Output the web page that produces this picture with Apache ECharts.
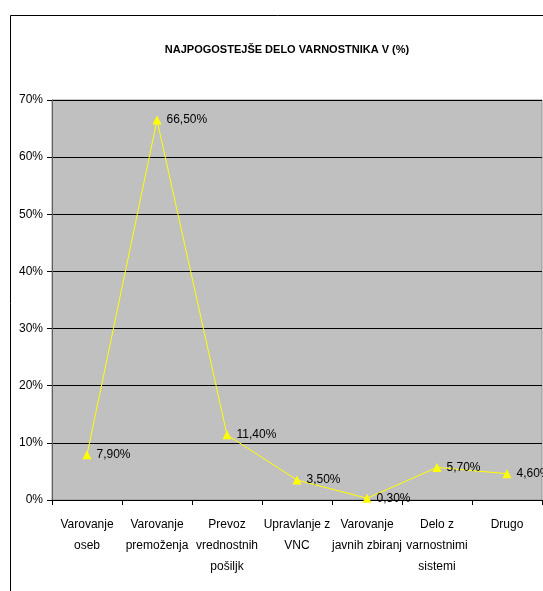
<!DOCTYPE html>
<html><head><meta charset="utf-8">
<script src="https://cdn.jsdelivr.net/npm/echarts@6/dist/echarts.min.js"></script>
<style>html,body{margin:0;padding:0;background:#fff}#c{width:543px;height:591px}</style>
</head><body><div id="c"></div>
<script>
var titleText = 'NAJPOGOSTEJŠE DELO VARNOSTNIKA V (%)';
var categories = ['Varovanje\noseb','Varovanje\npremoženja','Prevoz\nvrednostnih\npošiljk','Upravlanje z\nVNC','Varovanje\njavnih zbiranj','Delo z\nvarnostnimi\nsistemi','Drugo'];
var values = [7.9, 66.5, 11.4, 3.5, 0.3, 5.7, 4.6];
var FONT = '"Liberation Sans", Arial, sans-serif';
var chart = echarts.init(document.getElementById('c'), null, {renderer:'canvas'});
chart.setOption({
  animation:false,
  backgroundColor:'#fff',
  graphic:[{type:'rect',shape:{x:10.5,y:15.5,width:700,height:700},style:{fill:'none',stroke:'#000',lineWidth:1},z:-1}],
  title:{text:titleText,left:282,top:45,textAlign:'center',textVerticalAlign:'middle',
    textStyle:{fontFamily:FONT,fontSize:11,fontWeight:'bold',color:'#000'}},
  grid:{left:52,top:100,right:1,bottom:91,show:true,backgroundColor:'#C0C0C0',borderColor:'#909090',borderWidth:1},
  xAxis:{type:'category',data:categories,boundaryGap:true,
    axisLine:{lineStyle:{color:'#000',width:1}},
    axisTick:{show:true,length:5,inside:false,alignWithLabel:false,lineStyle:{color:'#000'}},
    axisLabel:{interval:0,margin:14,fontFamily:FONT,fontSize:12,lineHeight:21,color:'#000'}},
  yAxis:{type:'value',min:0,max:70,interval:10,
    axisLine:{show:true,lineStyle:{color:'#606060'}},
    axisTick:{show:true,length:5,lineStyle:{color:'#000'}},
    axisLabel:{formatter:'{value}%',margin:9,fontFamily:FONT,fontSize:12,color:'#000'},
    splitLine:{show:true,lineStyle:{color:'#000',width:1}}},
  series:[{type:'line',data:values,symbol:'triangle',symbolSize:9,
    lineStyle:{color:'#FFFF00',width:1},itemStyle:{color:'#FFFF00'},
    label:{show:true,position:'right',distance:5,fontFamily:FONT,fontSize:12,color:'#000',
      formatter:function(p){return p.value.toFixed(2).replace('.',',')+'%';}}}]
});
</script></body></html>
